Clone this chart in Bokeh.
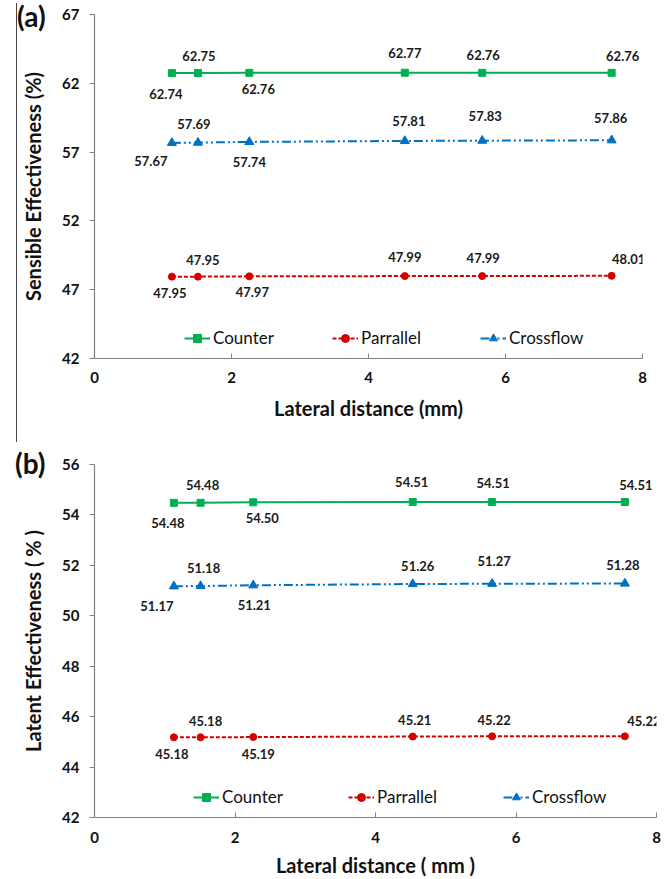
from bokeh.plotting import figure
from bokeh.models import Legend, LegendItem, FixedTicker, Div, Range1d, ColumnDataSource
from bokeh.layouts import column, row
from bokeh.embed import file_html
from bokeh.resources import INLINE
from bokeh.core.properties import value

# ---------------- data ----------------
distance = [1.13, 1.51, 2.26, 4.53, 5.66, 7.55]
series_names = ["Counter", "Parrallel", "Crossflow"]

sens_counter = [62.74, 62.75, 62.76, 62.77, 62.76, 62.76]
sens_parallel = [47.95, 47.95, 47.97, 47.99, 47.99, 48.01]
sens_cross = [57.67, 57.69, 57.74, 57.81, 57.83, 57.86]

lat_counter = [54.48, 54.48, 54.50, 54.51, 54.51, 54.51]
lat_parallel = [45.18, 45.18, 45.19, 45.21, 45.22, 45.22]
lat_cross = [51.17, 51.18, 51.21, 51.26, 51.27, 51.28]

x_ticks = [0, 2, 4, 6, 8]
sens_ticks = [42, 47, 52, 57, 62, 67]
lat_ticks = [42, 44, 46, 48, 50, 52, 54, 56]

# ---------------- styles ----------------
FONT = "Lato"
COLORS = {"Counter": "#00B050", "Parrallel": "#D40000", "Crossflow": "#0070C0"}
DASHES = {"Counter": "solid", "Parrallel": "4 2", "Crossflow": "9 3 2 3 2 3"}
MARKERS = {"Counter": "square", "Parrallel": "circle", "Crossflow": "triangle"}
MSIZE = {"Counter": 7, "Parrallel": 7, "Crossflow": 9}

# label offsets (pixels) per panel / series
OFF_A = {
    "Counter": ([-6, 1, 9, 0, 1, 11], [21, -17, 16, -20, -18, -17]),
    "Parrallel": ([-2, 5, 3, 0, 1, 17], [16, -17, 16, -19, -18, -17]),
    "Crossflow": ([-21, -4, 0, 4, 3, -1], [18, -19, 20, -20, -25, -22]),
}
OFF_B = {
    "Counter": ([-6, 2, 9, -1, 1, 11], [20, -18, 16, -20, -19, -17]),
    "Parrallel": ([-2, 5, 5, 2, 2, 19], [17, -16, 17, -17, -16, -15]),
    "Crossflow": ([-17, 3, 1, 5, 2, -2], [20, -18, 20, -18, -23, -19]),
}


def make_panel(series, yr, yticks, width, height, borders, ylabel, xlabel,
               offsets, legend_x, label_w, x_std, xl_std):
    mbl, mbr, mbt, mbb = borders
    p = figure(width=width, height=height, x_range=Range1d(0, 8),
               y_range=Range1d(*yr), output_backend="svg",
               toolbar_location=None, min_border_left=mbl,
               min_border_right=mbr, min_border_top=mbt,
               min_border_bottom=mbb)
    p.outline_line_color = None
    p.grid.grid_line_color = None
    p.background_fill_color = "white"
    p.border_fill_color = "white"

    items = []
    for name, vals in zip(series_names, series):
        src = ColumnDataSource(dict(
            x=distance, y=vals,
            lab=[f"{v:.2f}" for v in vals],
            dx=offsets[name][0], dy=offsets[name][1]))
        c = COLORS[name]
        lr = p.line("x", "y", source=src, line_color=c, line_width=2,
                    line_dash=DASHES[name])
        sr = p.scatter("x", "y", source=src, marker=MARKERS[name],
                       size=MSIZE[name], fill_color=c, line_color=c)
        p.text("x", "y", text="lab", source=src, x_offset="dx",
               y_offset="dy", text_align="center", text_baseline="middle",
               text_font=value(FONT), text_font_size="13px",
               text_font_style="bold", text_color="#1a1a1a")
        items.append(LegendItem(label=name, renderers=[lr, sr]))

    leg = Legend(items=items, orientation="horizontal",
                 location=(legend_x, 10), padding=0, spacing=22,
                 glyph_width=26, glyph_height=20, label_standoff=3,
                 label_width=label_w, label_text_font=FONT,
                 label_text_font_size="17px", label_text_color="#111",
                 border_line_alpha=0, background_fill_alpha=0)
    p.add_layout(leg, "center")

    for ax in (p.xaxis[0], p.yaxis[0]):
        ax.axis_line_color = "#808080"
        ax.axis_line_width = 1.2
        ax.major_tick_line_color = "#808080"
        ax.minor_tick_line_color = None
        ax.major_label_text_font = FONT
        ax.major_label_text_font_size = "15px"
        ax.major_label_text_font_style = "bold"
        ax.major_label_text_color = "#111"
        ax.axis_label_text_font = FONT
        ax.axis_label_text_font_size = "20px"
        ax.axis_label_text_font_style = "bold"
        ax.axis_label_text_color = "#111"

    p.xaxis.ticker = FixedTicker(ticks=x_ticks)
    p.xaxis.major_tick_in = 5
    p.xaxis.major_tick_out = 0
    p.xaxis.major_label_standoff = x_std
    p.xaxis.axis_label = xlabel
    p.xaxis.axis_label_standoff = xl_std

    p.yaxis.ticker = FixedTicker(ticks=yticks)
    p.yaxis.major_tick_in = 0
    p.yaxis.major_tick_out = 5
    p.yaxis.major_label_standoff = 10
    p.yaxis.axis_label = ylabel
    p.yaxis.axis_label_standoff = 14
    return p


top = make_panel([sens_counter, sens_parallel, sens_cross], (42, 67),
                 sens_ticks, 653, 442, (77, 28, 14, 84),
                 "Sensible Effectiveness (%)", "Lateral distance (mm)",
                 OFF_A, 90, 97, 13, 10)

bottom = make_panel([lat_counter, lat_parallel, lat_cross], (42, 56),
                    lat_ticks, 670, 437, (94, 14, 22, 62),
                    "Latent Effectiveness ( % )", "Lateral distance ( mm )",
                    OFF_B, 99, 104, 14, 7)

vline = Div(text="", width=1, height=439, margin=(3, 0, 0, 16),
            styles={"background-color": "#444"})

TAG_STYLE = {"position": "absolute", "font-family": "Lato",
             "font-size": "28px", "font-weight": "bold", "line-height": "1",
             "color": "#111", "z-index": "10"}
tag_a = Div(text="(a)", width=45, height=30, margin=(0, 0, 0, 0),
            styles=dict(TAG_STYLE, left="17px", top="2px"))
tag_b = Div(text="(b)", width=45, height=30, margin=(0, 0, 0, 0),
            styles=dict(TAG_STYLE, left="15px", top="449px"))

layout = column(row(vline, top, spacing=0), bottom, tag_a, tag_b, spacing=0)

open("out.html", "w").write(file_html(layout, INLINE))
